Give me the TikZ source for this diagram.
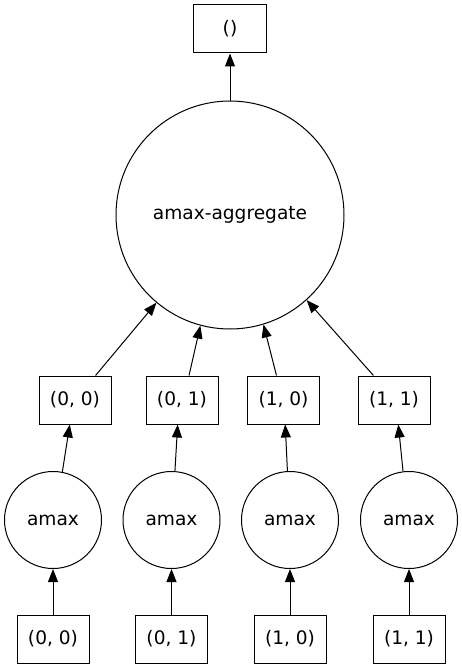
\documentclass[tikz,border=0pt]{standalone}
\usepackage{fontspec}
\setmainfont{DejaVu Sans}
\usetikzlibrary{arrows.meta}
\tikzset{
  every node/.style={font=\fontsize{18.6}{22}\selectfont, inner sep=0pt, line width=1pt},
  keybox/.style={draw, rectangle, minimum width=72pt, minimum height=48pt},
  taskcirc/.style={draw, circle, minimum size=97pt},
  bigcirc/.style={draw, circle, minimum size=228pt},
  edge/.style={line width=1pt, -{Triangle[length=13pt,width=10pt]}}
}
\begin{document}
\begin{tikzpicture}[x=1pt,y=-1pt]
\useasboundingbox (0,0) rectangle (462,669);
\node[keybox, minimum width=73pt] (top) at (230,29) {()};
\node[bigcirc] (agg) at (230,215) {amax-aggregate};
\node[keybox] (m00) at (75,400) {(0, 0)};
\node[keybox] (m01) at (182,400) {(0, 1)};
\node[keybox] (m10) at (283.5,400) {(1, 0)};
\node[keybox] (m11) at (394,400) {(1, 1)};
\node[taskcirc] (c1) at (53,520) {amax};
\node[taskcirc] (c2) at (171.5,520) {amax};
\node[taskcirc] (c3) at (290,520) {amax};
\node[taskcirc] (c4) at (409,520) {amax};
\node[keybox] (b00) at (53,639) {(0, 0)};
\node[keybox] (b01) at (171.5,639) {(0, 1)};
\node[keybox] (b10) at (290,639) {(1, 0)};
\node[keybox] (b11) at (409,639) {(1, 1)};
\draw[edge] (agg.north) -- (top.south);
\draw[edge] (m00.50) -- (agg.230);
\draw[edge] (m01.74) -- (agg.255);
\draw[edge] (m10.106) -- (agg.287);
\draw[edge] (m11.130) -- (agg.312);
\draw[edge] (c1.79) -- (m00.258);
\draw[edge] (c2.86) -- (m01.260);
\draw[edge] (c3.93) -- (m10.274);
\draw[edge] (c4.97) -- (m11.280);
\draw[edge] (b00.north) -- (c1.south);
\draw[edge] (b01.north) -- (c2.south);
\draw[edge] (b10.north) -- (c3.south);
\draw[edge] (b11.north) -- (c4.south);
\end{tikzpicture}
\end{document}
